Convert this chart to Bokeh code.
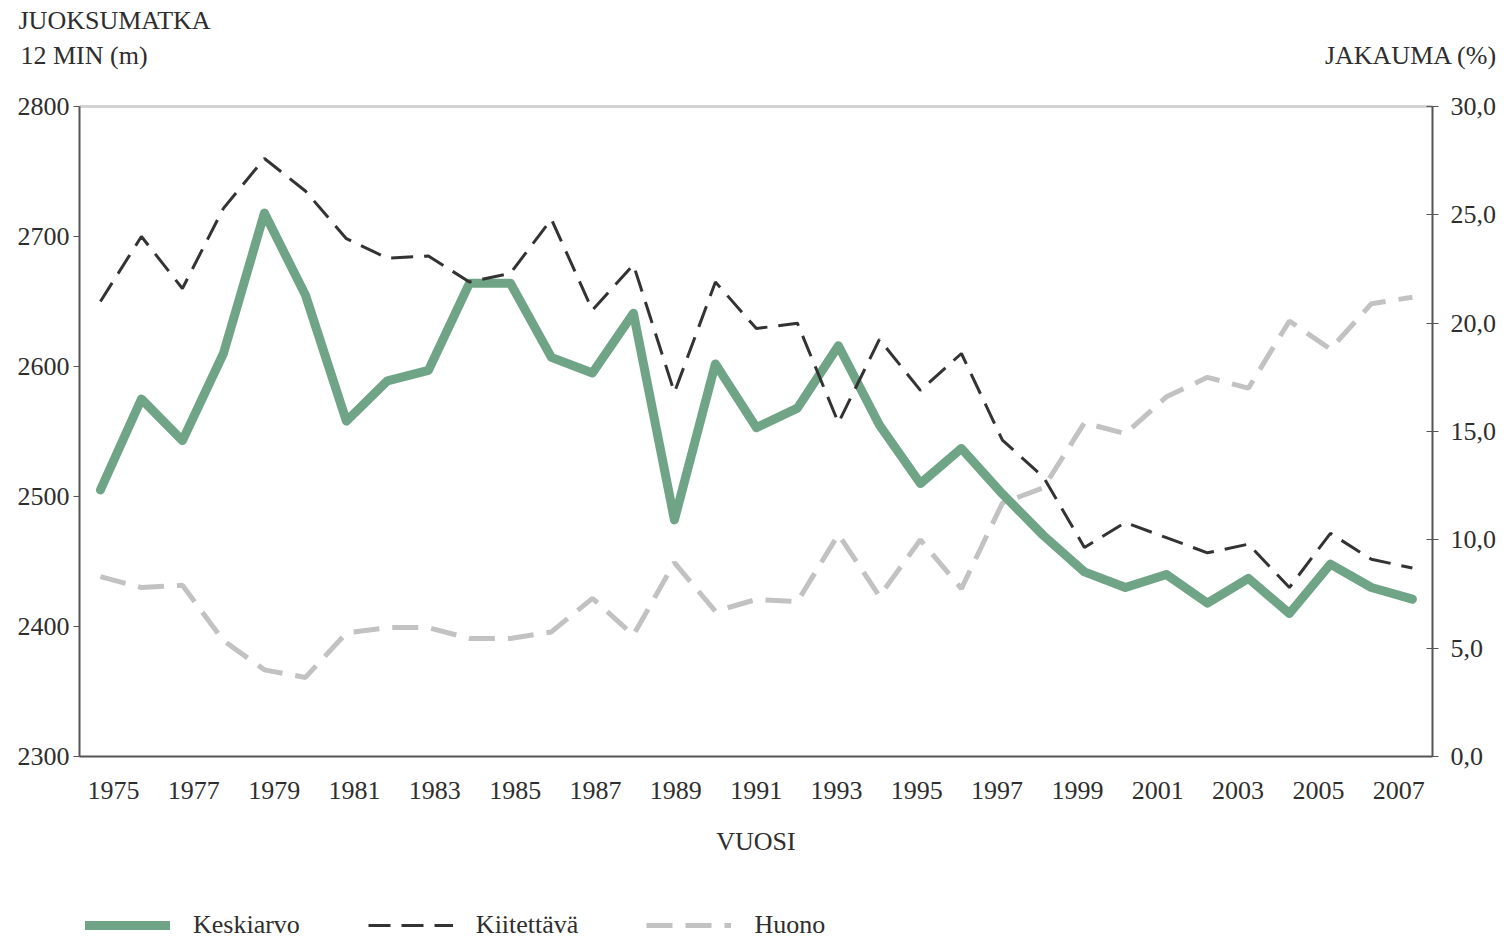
from bokeh.plotting import figure
from bokeh.layouts import column
from bokeh.models import (Range1d, LinearAxis, FixedTicker, Legend, LegendItem,
                          CustomJSTickFormatter, ColumnDataSource)
from bokeh.core.properties import value
from bokeh.embed import file_html
from bokeh.resources import INLINE

# ---- data ----
years = list(range(1975, 2008))
keskiarvo = [2505, 2575, 2543, 2610, 2718, 2655, 2558, 2589, 2597, 2664, 2664,
             2607, 2595, 2641, 2482, 2602, 2553, 2568, 2616, 2555, 2510, 2537,
             2502, 2470, 2442, 2430, 2440, 2418, 2437, 2410, 2448, 2430, 2421]
kiitettava = [21.0, 24.0, 21.6, 25.3, 27.6, 26.1, 23.9, 23.0, 23.1, 21.9, 22.3,
              24.8, 20.6, 22.7, 16.8, 21.9, 19.75, 20.0, 15.4, 19.25, 16.9, 18.6,
              14.6, 12.9, 9.65, 10.8, 10.1, 9.4, 9.8, 7.8, 10.3, 9.1, 8.7]
huono = [8.3, 7.8, 7.9, 5.35, 4.0, 3.65, 5.7, 5.95, 5.95, 5.45, 5.45,
         5.75, 7.3, 5.6, 8.95, 6.7, 7.25, 7.15, 10.25, 7.4, 10.0, 7.75,
         11.7, 12.4, 15.4, 14.9, 16.6, 17.5, 17.0, 20.1, 18.8, 20.9, 21.2]
x_tick_years = list(range(1975, 2008, 2))
left_ticks = [2300, 2400, 2500, 2600, 2700, 2800]
right_ticks = [0, 5, 10, 15, 20, 25, 30]
series_names = ["Keskiarvo", "Kiitettävä", "Huono"]
header_texts = ["JUOKSUMATKA", "12 MIN (m)", "JAKAUMA (%)"]
x_axis_title = "VUOSI"

FONT = "Liberation Serif"
TXT = "#2e2e2e"
AX = "#555555"
W = 1502
HEAD_H = 80
MAIN_H = 795
LEG_H = 65

GREEN = dict(line_color="#6fa487", line_width=9, line_join="round", line_cap="round")
DARK = dict(line_color="#333333", line_width=3, line_dash="22 11")
GREY = dict(line_color="#c2c2c2", line_width=5, line_dash="26 13")


def bare(fig):
    fig.outline_line_color = None
    fig.xgrid.visible = False
    fig.ygrid.visible = False
    fig.frame_align = False
    return fig


# ---- header with the axis titles ----
head = bare(figure(width=W, height=HEAD_H, x_range=Range1d(0, W), y_range=Range1d(0, HEAD_H),
                   output_backend="svg", toolbar_location=None,
                   x_axis_location=None, y_axis_location=None,
                   min_border_left=0, min_border_right=0,
                   min_border_top=0, min_border_bottom=0))
hsrc = ColumnDataSource(dict(x=[18, 20, W - 5], y=[HEAD_H - 20, HEAD_H - 55, HEAD_H - 55],
                             t=header_texts, a=["left", "left", "right"]))
head.text(x="x", y="y", text="t", source=hsrc, text_align="a", text_baseline="middle",
          text_font=value(FONT), text_font_size="26px", text_color=TXT)

# ---- main chart ----
p = bare(figure(width=W, height=MAIN_H,
                x_range=Range1d(1974.49, 2007.49), y_range=Range1d(2300, 2800),
                output_backend="svg", toolbar_location=None,
                x_axis_location=None, y_axis_location="left",
                min_border_left=79, min_border_right=70,
                min_border_top=106 - HEAD_H, min_border_bottom=MAIN_H - 650 - (106 - HEAD_H)))
p.extra_y_ranges = {"pct": Range1d(0, 30)}
p.extra_x_ranges = {"lbl": Range1d(1974.153, 2007.84)}

ya = p.yaxis[0]
ya.ticker = FixedTicker(ticks=left_ticks)
ya.major_tick_out = 6
ya.major_tick_in = 0
ya.minor_tick_line_color = None
ya.major_tick_line_color = AX
ya.axis_line_color = AX
ya.axis_line_width = 2
ya.major_label_text_font = FONT
ya.major_label_text_font_size = "26px"
ya.major_label_text_color = TXT
ya.major_label_standoff = 4

ra = LinearAxis(y_range_name="pct", ticker=FixedTicker(ticks=right_ticks),
                formatter=CustomJSTickFormatter(code="return tick.toFixed(1).replace('.', ',');"))
ra.major_tick_out = 6
ra.major_tick_in = 6
ra.minor_tick_line_color = None
ra.major_tick_line_color = AX
ra.axis_line_color = AX
ra.axis_line_width = 2
ra.major_label_text_font = FONT
ra.major_label_text_font_size = "26px"
ra.major_label_text_color = TXT
ra.major_label_standoff = 12
p.add_layout(ra, "right")

xa = LinearAxis(x_range_name="lbl", ticker=FixedTicker(ticks=x_tick_years),
                formatter=CustomJSTickFormatter(code="return tick.toFixed(0);"),
                axis_label=x_axis_title)
xa.major_tick_out = 0
xa.major_tick_in = 0
xa.major_tick_line_color = None
xa.minor_tick_line_color = None
xa.axis_line_color = AX
xa.axis_line_width = 2
xa.major_label_text_font = FONT
xa.major_label_text_font_size = "26px"
xa.major_label_text_color = TXT
xa.major_label_standoff = 25
xa.axis_label_text_font = FONT
xa.axis_label_text_font_size = "26px"
xa.axis_label_text_font_style = "normal"
xa.axis_label_text_color = TXT
xa.axis_label_standoff = 25
p.add_layout(xa, "below")

ta = LinearAxis(ticker=FixedTicker(ticks=[]))
ta.major_tick_line_color = None
ta.minor_tick_line_color = None
ta.major_label_text_font_size = "0px"
ta.axis_line_color = "#d2d2d2"
ta.axis_line_width = 3
p.add_layout(ta, "above")

h = p.line(years, huono, y_range_name="pct", **GREY)
g = p.line(years, keskiarvo, **GREEN)
k = p.line(years, kiitettava, y_range_name="pct", **DARK)

# ---- legend strip (its lines lie outside its own view; only the swatches show) ----
leg = bare(figure(width=W, height=LEG_H, x_range=Range1d(0, 1), y_range=Range1d(0, 1),
                  output_backend="svg", toolbar_location=None,
                  x_axis_location=None, y_axis_location=None,
                  min_border_left=0, min_border_right=0,
                  min_border_top=0, min_border_bottom=0))
lg = leg.line(years, keskiarvo, **GREEN)
lk = leg.line(years, kiitettava, **DARK)
lh = leg.line(years, huono, **GREY)
legend = Legend(items=[LegendItem(label=series_names[0], renderers=[lg]),
                       LegendItem(label=series_names[1], renderers=[lk]),
                       LegendItem(label=series_names[2], renderers=[lh])],
                orientation="horizontal", location=(85, 0),
                glyph_width=85, glyph_height=26, label_standoff=23, spacing=68,
                label_text_font=FONT, label_text_font_size="26px",
                label_text_color=TXT, border_line_color=None,
                background_fill_alpha=0, padding=0, margin=0)
leg.add_layout(legend)

layout = column(head, p, leg, spacing=0)
open("out.html", "w").write(file_html(layout, INLINE))
